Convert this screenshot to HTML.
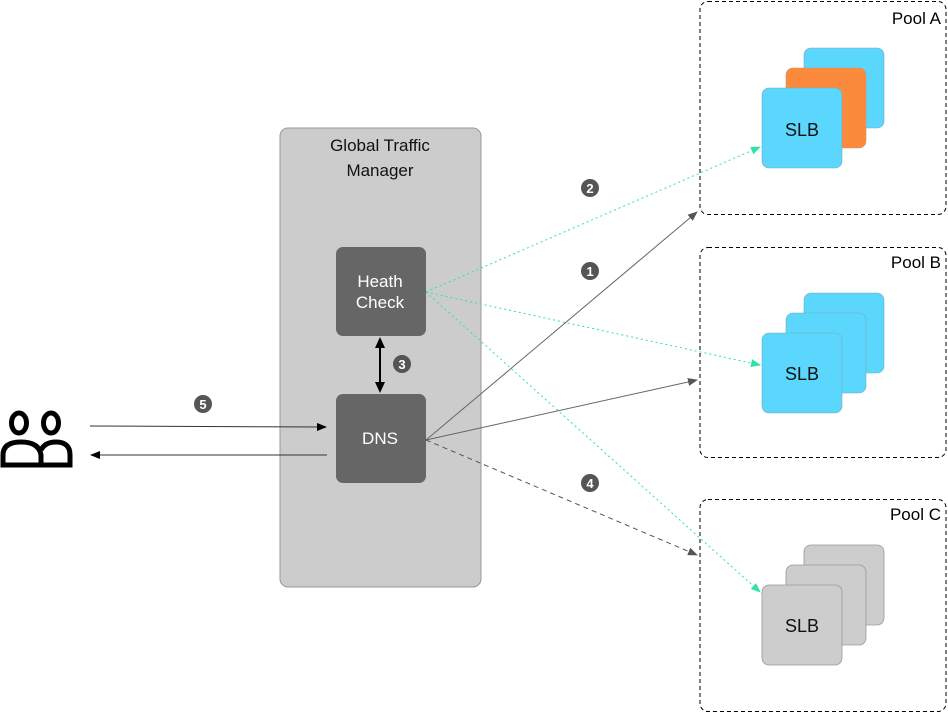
<!DOCTYPE html>
<html><head><meta charset="utf-8"><style>
html,body{margin:0;padding:0;background:#fff;}
svg{display:block;}
text{font-family:"Liberation Sans",sans-serif;}
</style></head><body>
<svg width="948" height="713" viewBox="0 0 948 713" xmlns="http://www.w3.org/2000/svg">
<defs>
<marker id="ab" markerWidth="10" markerHeight="8" refX="9" refY="4" orient="auto" markerUnits="userSpaceOnUse"><path d="M0,0 L10,4 L0,8 z" fill="#000"/></marker>
<marker id="ag" markerWidth="10" markerHeight="8" refX="9" refY="4" orient="auto" markerUnits="userSpaceOnUse"><path d="M0,0 L10,4 L0,8 z" fill="#555"/></marker>
<marker id="at" markerWidth="10" markerHeight="8" refX="9" refY="4" orient="auto" markerUnits="userSpaceOnUse"><path d="M0,0 L10,4 L0,8 z" fill="#2de5a0"/></marker>
</defs>
<rect x="700" y="1.5" width="246" height="213" rx="8" fill="none" stroke="#000" stroke-dasharray="4,3"/>
<rect x="700" y="247.5" width="246" height="210" rx="8" fill="none" stroke="#000" stroke-dasharray="4,3"/>
<rect x="700" y="499.5" width="246" height="212" rx="8" fill="none" stroke="#000" stroke-dasharray="4,3"/>
<text x="941" y="24" font-size="17" text-anchor="end">Pool A</text>
<text x="941" y="268" font-size="17" text-anchor="end">Pool B</text>
<text x="941" y="520" font-size="17" text-anchor="end">Pool C</text>
<rect x="804" y="48" width="80" height="80" rx="7" fill="#5bd6fd" stroke="#7ab" stroke-width="0.6"/>
<rect x="786" y="68" width="80" height="80" rx="7" fill="#fc8a3c" stroke="#c96" stroke-width="0.6"/>
<rect x="762" y="88" width="80" height="80" rx="7" fill="#5bd6fd" stroke="#7ab" stroke-width="0.6"/>
<text x="802" y="136" font-size="18" text-anchor="middle" fill="#111">SLB</text>
<rect x="804" y="293" width="80" height="80" rx="7" fill="#5bd6fd" stroke="#7ab" stroke-width="0.6"/>
<rect x="786" y="313" width="80" height="80" rx="7" fill="#5bd6fd" stroke="#7ab" stroke-width="0.6"/>
<rect x="762" y="333" width="80" height="80" rx="7" fill="#5bd6fd" stroke="#7ab" stroke-width="0.6"/>
<text x="802" y="380" font-size="18" text-anchor="middle" fill="#111">SLB</text>
<rect x="804" y="545" width="80" height="80" rx="7" fill="#cdcdcd" stroke="#999" stroke-width="0.8"/>
<rect x="786" y="565" width="80" height="80" rx="7" fill="#cdcdcd" stroke="#999" stroke-width="0.8"/>
<rect x="762" y="585" width="80" height="80" rx="7" fill="#cdcdcd" stroke="#999" stroke-width="0.8"/>
<text x="802" y="632" font-size="18" text-anchor="middle" fill="#111">SLB</text>
<rect x="280" y="128" width="201" height="459" rx="8" fill="#cccccc" stroke="#999"/>
<text x="380" y="151" font-size="17" text-anchor="middle" fill="#111">Global Traffic</text>
<text x="380" y="176" font-size="17" text-anchor="middle" fill="#111">Manager</text>
<rect x="336" y="247" width="90" height="89" rx="7" fill="#666"/>
<text x="380" y="287" font-size="17" text-anchor="middle" fill="#fff">Heath</text>
<text x="380" y="308" font-size="17" text-anchor="middle" fill="#fff">Check</text>
<rect x="336" y="394" width="90" height="89" rx="7" fill="#666"/>
<text x="380" y="444" font-size="17" text-anchor="middle" fill="#fff">DNS</text>
<line x1="380" y1="346" x2="380" y2="384" stroke="#000" stroke-width="2"/>
<path d="M375,348 L380,337 L385,348 z M375,382 L380,393 L385,382 z" fill="#000"/>
<line x1="90" y1="426" x2="326" y2="427" stroke="#333" marker-end="url(#ab)"/>
<line x1="327" y1="455" x2="91" y2="455" stroke="#333" marker-end="url(#ab)"/>
<g stroke="#2de5a0" stroke-width="1" stroke-dasharray="2,3" fill="none">
<line x1="426" y1="292" x2="760" y2="147" marker-end="url(#at)"/>
<line x1="426" y1="292" x2="760" y2="365" marker-end="url(#at)"/>
<line x1="426" y1="292" x2="760" y2="592" marker-end="url(#at)"/>
</g>
<line x1="426" y1="440" x2="697" y2="212" stroke="#666" marker-end="url(#ag)"/>
<line x1="426" y1="440" x2="697" y2="380" stroke="#666" marker-end="url(#ag)"/>
<line x1="426" y1="440" x2="697" y2="555" stroke="#555" stroke-dasharray="5,4" marker-end="url(#ag)"/>
<g font-size="13" font-weight="bold" fill="#fff" text-anchor="middle">
<circle cx="590" cy="188" r="9" fill="#555"/><text x="590" y="193">2</text>
<circle cx="590" cy="271" r="9" fill="#555"/><text x="590" y="276">1</text>
<circle cx="402" cy="364" r="9" fill="#555"/><text x="402" y="369">3</text>
<circle cx="590" cy="483" r="9" fill="#555"/><text x="590" y="488">4</text>
<circle cx="203" cy="404" r="9" fill="#555"/><text x="203" y="409">5</text>
</g>
<g fill="none" stroke="#000" stroke-width="5">
<ellipse cx="19" cy="423" rx="7.5" ry="10"/>
<ellipse cx="51" cy="423" rx="7.5" ry="10"/>
<path d="M3,465 L3,455 Q3,442 21,442 Q39,442 41,455 L41,465 Z"/>
<path d="M41,450 Q45,442 56,442 Q70,442 70,455 L70,465 L41,465"/>
</g>
</svg>
</body></html>
